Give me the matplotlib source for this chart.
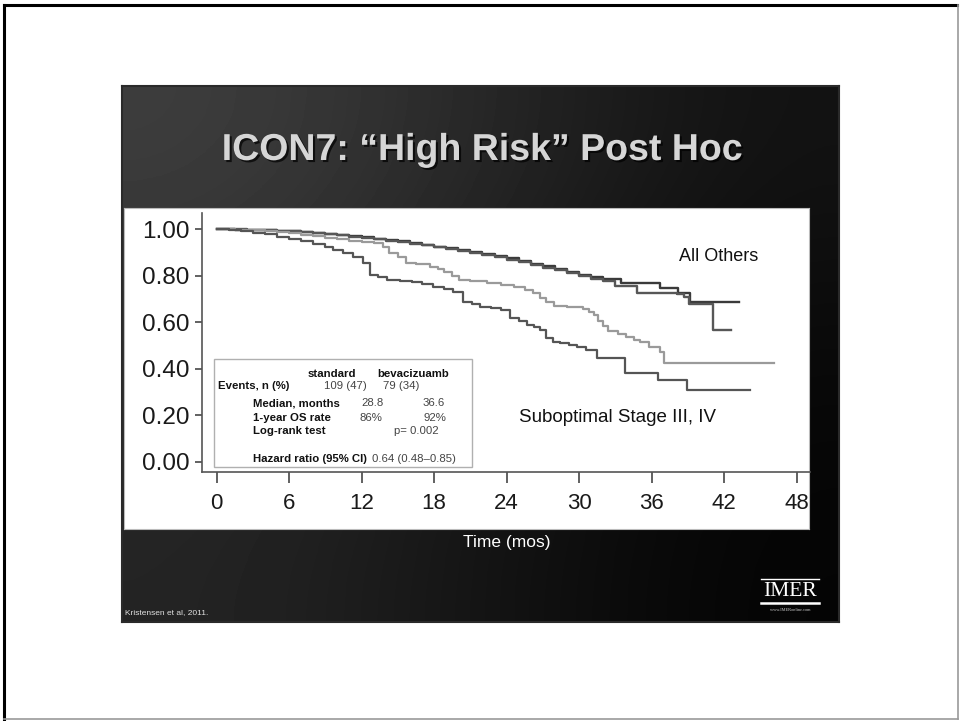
import numpy as np
import matplotlib.pyplot as plt
import matplotlib.patheffects as pe
from matplotlib.patches import Rectangle
from matplotlib.lines import Line2D

W, H = 960, 721

# Kaplan-Meier steps (months, survival)
others_a_t = [0, 1.5, 3, 4, 5, 6, 7, 8, 9, 10, 11, 12, 13, 14, 15, 16, 17, 18, 19, 20,
              21, 22, 23, 24, 25, 26, 27, 28, 29, 30, 31, 32, 33.5, 36.7, 38.2, 39.2, 43.2]
others_a_s = [1.000, 0.998, 0.996, 0.994, 0.992, 0.990, 0.987, 0.983, 0.979, 0.975,
              0.970, 0.965, 0.959, 0.953, 0.947, 0.941, 0.933, 0.925, 0.918, 0.911,
              0.903, 0.894, 0.884, 0.874, 0.863, 0.851, 0.840, 0.828, 0.815, 0.802,
              0.792, 0.784, 0.767, 0.745, 0.724, 0.685, 0.685]

others_b_t = [0, 1.0, 2.5, 4, 5, 6, 7, 8, 9, 10, 11, 12, 13, 14, 15, 16, 17, 18, 19, 20,
              21, 22, 23, 24, 25, 26, 27, 28, 29, 30, 31, 32, 33.0, 34.8, 38.1, 38.7,
              39.1, 41.1, 42.6]
others_b_s = [1.000, 0.999, 0.997, 0.995, 0.993, 0.990, 0.986, 0.982, 0.977, 0.973,
              0.968, 0.963, 0.957, 0.950, 0.944, 0.937, 0.930, 0.922, 0.915, 0.907,
              0.899, 0.890, 0.880, 0.869, 0.858, 0.846, 0.834, 0.822, 0.810, 0.797,
              0.787, 0.776, 0.756, 0.726, 0.719, 0.707, 0.677, 0.566, 0.566]

subopt_bev_t = [0, 1.5, 3, 4, 5, 6, 7, 8, 9, 10, 11, 12, 13,
                13.8, 14.3, 15.0, 15.7, 16.5, 17.7, 18.3, 18.8, 19.5, 20.1,
                21.0, 22.4, 23.5, 24.6, 25.5, 26.2, 26.8, 27.3, 27.9,
                29.0, 30.3, 30.8, 31.2, 31.6, 32.0, 32.4, 33.2, 33.9,
                34.5, 35.0, 35.8, 36.7, 37.0, 46.1]
subopt_bev_s = [1.000, 0.998, 0.995, 0.992, 0.988, 0.984, 0.976, 0.970, 0.963, 0.956, 0.950, 0.945, 0.940,
                0.924, 0.895, 0.878, 0.856, 0.848, 0.838, 0.828, 0.816, 0.800, 0.783,
                0.778, 0.767, 0.760, 0.752, 0.740, 0.726, 0.705, 0.688, 0.669,
                0.664, 0.655, 0.643, 0.630, 0.605, 0.582, 0.560, 0.548, 0.535,
                0.525, 0.516, 0.495, 0.473, 0.423, 0.423]

subopt_std_t = [0, 1, 2, 3, 4, 5, 6, 7, 8, 9,
                9.6, 10.5, 11.3, 12.1, 12.7, 13.4, 14.1, 15.2, 16.2, 17.0,
                17.9, 18.8, 19.6, 20.4, 21.1, 21.8, 22.7, 23.5, 24.3, 25.0,
                25.7, 26.3, 26.8, 27.3, 27.8, 28.4, 29.2, 29.8, 30.6, 31.5,
                33.8, 36.5, 38.9, 44.1]
subopt_std_s = [1.000, 0.996, 0.991, 0.985, 0.977, 0.968, 0.958, 0.948, 0.936, 0.923,
                0.910, 0.895, 0.881, 0.854, 0.802, 0.792, 0.782, 0.778, 0.774, 0.763,
                0.752, 0.742, 0.731, 0.688, 0.676, 0.666, 0.659, 0.652, 0.618, 0.603,
                0.588, 0.577, 0.566, 0.532, 0.516, 0.509, 0.501, 0.494, 0.480, 0.444,
                0.380, 0.351, 0.308, 0.308]

x_ticks = [0, 6, 12, 18, 24, 30, 36, 42, 48]
y_ticks = [0.0, 0.2, 0.4, 0.6, 0.8, 1.0]
y_ticklabels = ["0.00", "0.20", "0.40", "0.60", "0.80", "1.00"]

# summary box contents
col_heads = ["standard", "bevacizuamb"]
row_labels = ["Events, n (%)", "Median, months", "1-year OS rate", "Log-rank test",
              "Hazard ratio (95% CI)"]
std_vals = ["109 (47)", "28.8", "86%"]
bev_vals = ["79 (34)", "36.6", "92%"]
logrank = "p= 0.002"
hazard = "0.64 (0.48\u20130.85)"

plt.rcParams['font.family'] = ['Liberation Sans', 'DejaVu Sans']


def box(x0, y0, x1, y1):
    # pixel box (top-left origin) -> figure fraction rect
    return [x0 / W, 1 - y1 / H, (x1 - x0) / W, (y1 - y0) / H]


def px(x, y):
    return x / W, 1 - y / H


fig = plt.figure(figsize=(W / 100, H / 100), dpi=100)
fig.patch.set_facecolor('white')

# page frame
fig.add_artist(Line2D([4 / W, 957 / W], [px(0, 5)[1]] * 2, color='black', lw=2.2))
fig.add_artist(Line2D([4 / W] * 2, [px(0, 5)[1], px(0, 719)[1]], color='black', lw=2.2))
fig.add_artist(Line2D([4 / W, 958 / W], [px(0, 719)[1]] * 2, color='#999999', lw=1.2))
fig.add_artist(Line2D([958 / W] * 2, [px(0, 5)[1], px(0, 719)[1]], color='#999999', lw=1.2))

# dark slide with diagonal shading
slide = fig.add_axes(box(122, 86, 839, 622))
shade = np.array([[62, 40, 18],
                  [44, 26, 8],
                  [36, 20, 4]], dtype=float) / 255
slide.imshow(shade, cmap='gray', vmin=0, vmax=1, interpolation='bicubic',
             extent=[0, 1, 0, 1], aspect='auto')
slide.set_xlim(0, 1)
slide.set_ylim(0, 1)
slide.set_xticks([])
slide.set_yticks([])
for sp in slide.spines.values():
    sp.set_color('#2a2a2a')
    sp.set_linewidth(1.5)

# title with a soft drop shadow
fig.text(*px(482, 150), "ICON7: \u201cHigh Risk\u201d Post Hoc", ha='center',
         va='center', fontsize=27, fontweight='bold', color='#d6d6d6',
         path_effects=[pe.SimplePatchShadow(offset=(1.5, -1.5), shadow_rgbFace='black',
                                            alpha=0.7),
                       pe.Normal()])

# white chart panel
panel = fig.add_axes(box(124, 208, 809, 529))
panel.set_facecolor('white')
panel.set_xticks([])
panel.set_yticks([])
for sp in panel.spines.values():
    sp.set_color('#bbbbbb')
    sp.set_linewidth(0.8)

ax = fig.add_axes(box(202, 213, 810, 472))
ax.set_facecolor('none')
ax.step(others_a_t, others_a_s, where='post', color='#3a3a3a', lw=1.7)
ax.step(others_b_t, others_b_s, where='post', color='#575757', lw=1.7)
ax.step(subopt_bev_t, subopt_bev_s, where='post', color='#9a9a9a', lw=1.6)
ax.step(subopt_std_t, subopt_std_s, where='post', color='#555555', lw=1.6)

ax.set_xlim(-1.2, 49.1)
ax.set_ylim(-0.044, 1.069)
ax.set_xticks(x_ticks)
ax.set_yticks(y_ticks)
ax.set_yticklabels(y_ticklabels)
ax.spines['top'].set_visible(False)
ax.spines['right'].set_visible(False)
for side in ('left', 'bottom'):
    ax.spines[side].set_color('#555555')
    ax.spines[side].set_linewidth(1.2)
ax.tick_params(axis='x', length=8, width=1.3, color='#555555', pad=7,
               labelsize=16, labelcolor='#1a1a1a')
ax.tick_params(axis='y', length=5, width=1.3, color='#555555', pad=4,
               labelsize=17.5, labelcolor='#1a1a1a')

ax.text(38.3, 0.88, "All Others", fontsize=13, color='#111111', va='center')
ax.text(25.0, 0.19, "Suboptimal Stage III, IV", fontsize=13.5, color='#111111',
        va='center')

# summary box
fig.add_artist(Rectangle(px(214, 467), 258 / W, 108 / H, transform=fig.transFigure,
                         facecolor='white', edgecolor='#b0b0b0', lw=1.0))
bold = dict(fontsize=8.2, fontweight='bold', color='#111111', va='center')
norm = dict(fontsize=8.2, color='#444444', va='center')
fig.text(*px(308, 374), col_heads[0], **bold)
fig.text(*px(377, 374), col_heads[1], **bold)
fig.text(*px(218, 386), row_labels[0], **bold)
row_y = [403, 418, 431, 459]
for lbl, yy in zip(row_labels[1:], row_y):
    fig.text(*px(253, yy), lbl, **bold)
fig.text(*px(324, 386), std_vals[0], **norm)
fig.text(*px(383, 386), bev_vals[0], **norm)
fig.text(*px(361, 403), std_vals[1], **norm)
fig.text(*px(423, 403), bev_vals[1], **norm)
fig.text(*px(359, 418), std_vals[2], **norm)
fig.text(*px(423, 418), bev_vals[2], **norm)
fig.text(*px(394, 431), logrank, **norm)
fig.text(*px(372, 459), hazard, **norm)

# axis title sits on the dark slide
fig.text(*px(507, 542), "Time (mos)", ha='center', va='center', fontsize=12.5,
         color='white')

# footer
fig.text(*px(125, 613), "Kristensen et al, 2011.", ha='left', va='center',
         fontsize=6, color='#e0e0e0')
fig.add_artist(Line2D([761 / W, 819 / W], [px(0, 579)[1]] * 2, color='white', lw=1.0))
fig.add_artist(Line2D([761 / W, 819 / W], [px(0, 603)[1]] * 2, color='white', lw=1.8))
fig.text(*px(790, 591), "IMER", ha='center', va='center', fontsize=15.5,
         family=['Liberation Serif', 'DejaVu Serif'], color='white')
fig.text(*px(790, 610), "www.IMERonline.com", ha='center', va='center',
         fontsize=3.2, family=['Liberation Serif', 'DejaVu Serif'], color='#cccccc')

fig.savefig('out.png', dpi=100)
